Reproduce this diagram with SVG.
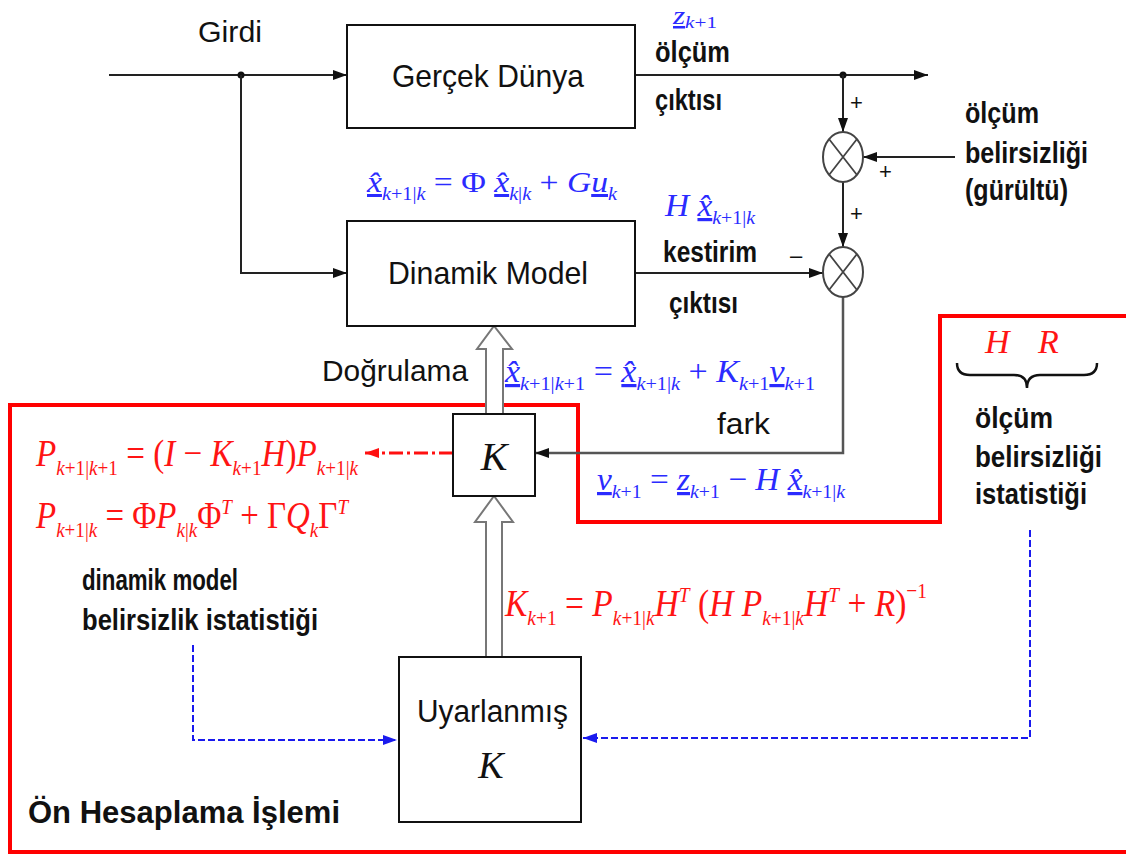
<svg xmlns="http://www.w3.org/2000/svg" width="1126" height="857" viewBox="0 0 1126 857">
<defs>
<marker id="ah" markerUnits="userSpaceOnUse" markerWidth="14" markerHeight="10" refX="14" refY="5" orient="auto"><path d="M0,0 L14,5 L0,10 z" fill="#111"/></marker>
<marker id="ahb" markerUnits="userSpaceOnUse" markerWidth="14" markerHeight="10" refX="14" refY="5" orient="auto"><path d="M0,0 L14,5 L0,10 z" fill="#1a1aee"/></marker>
<marker id="ahr" markerUnits="userSpaceOnUse" markerWidth="14" markerHeight="10" refX="14" refY="5" orient="auto"><path d="M0,0 L14,5 L0,10 z" fill="#ff1010"/></marker>
</defs>
<style>
.box{fill:#fff;stroke:#111;stroke-width:2}
.ln{fill:none;stroke:#222;stroke-width:2}
.gl{fill:none;stroke:#555;stroke-width:2.5}
.sum{fill:#fff;stroke:#444;stroke-width:2}
.hol{fill:#fff;stroke:#777;stroke-width:2}
.bl{fill:none;stroke:#1a1aee;stroke-width:2;stroke-dasharray:7,3}
.lbl{font-family:"Liberation Sans",Arial,sans-serif;fill:#111}
.b{font-weight:bold}
.m{font-family:"Liberation Serif","Times New Roman",serif;font-style:italic}
.u{font-style:normal}
.blue{fill:#2b2bff}
.red{fill:#ff1414}
</style>

<g id="red-frame"><path d="M1130,316 L940,316 L940,522 L578,522 L578,405 L10,405 L10,852 L1130,852" fill="none" stroke="#ff0000" stroke-width="4"/></g>

<g id="connectors">
<line class="ln" x1="109" y1="75" x2="347" y2="75" marker-end="url(#ah)"/>
<circle cx="241" cy="75" r="3.5" fill="#111"/>
<polyline class="ln" points="241,75 241,273 347,273" marker-end="url(#ah)"/>
<line class="ln" x1="635" y1="75" x2="928" y2="75" marker-end="url(#ah)"/>
<circle cx="843" cy="75" r="3.5" fill="#111"/>
<line class="ln" x1="843" y1="75" x2="843" y2="132" marker-end="url(#ah)"/>
<line class="ln" x1="955" y1="157" x2="863" y2="157" marker-end="url(#ah)"/>
<line class="ln" x1="843" y1="182" x2="843" y2="247" marker-end="url(#ah)"/>
<line class="ln" x1="635" y1="273" x2="823" y2="273" marker-end="url(#ah)"/>
<polyline class="gl" points="843,297 843,453 535,453" marker-end="url(#ah)"/>
<polyline class="hol" points="486,414 486,349 477,349 494,326 512,349 503,349 503,414"/>
<polyline class="hol" points="486,657 486,522 475,522 494,496 513,522 502,522 502,657"/>
<line x1="453" y1="453" x2="365" y2="453" stroke="#ff1010" stroke-width="3" stroke-dasharray="14,4,3,4" marker-end="url(#ahr)"/>
<polyline class="bl" points="193,645 193,740 397,740" marker-end="url(#ahb)"/>
<polyline class="bl" points="1030,530 1030,738 583,738" marker-end="url(#ahb)"/>
<path d="M957,363 Q957,375 970,375 L1014,375 Q1027,375 1027,388 Q1027,375 1040,375 L1084,375 Q1097,375 1097,363" fill="none" stroke="#111" stroke-width="2.5"/>
</g>

<g id="gercek"><rect class="box" x="347" y="25" width="288" height="103"/>
<text class="lbl" x="392" y="87" font-size="32" textLength="192" lengthAdjust="spacingAndGlyphs">Gerçek Dünya</text></g>

<g id="dinamik"><rect class="box" x="347" y="221" width="288" height="105"/>
<text class="lbl" x="388" y="284" font-size="32" textLength="200" lengthAdjust="spacingAndGlyphs">Dinamik Model</text></g>

<g id="sum1"><ellipse class="sum" cx="843" cy="157" rx="20" ry="25"/><path d="M829,139 L857,175 M857,139 L829,175" stroke="#444" stroke-width="1.8"/></g>
<g id="sum2"><ellipse class="sum" cx="843" cy="272" rx="20" ry="25"/><path d="M829,254 L857,290 M857,254 L829,290" stroke="#444" stroke-width="1.8"/></g>

<g id="kbox"><rect class="box" x="453" y="414" width="82" height="82"/>
<text class="m" x="494" y="470" font-size="40" text-anchor="middle" fill="#111">K</text></g>

<g id="uyarlanmis"><rect class="box" x="399" y="657" width="182" height="165" stroke-width="2.5"/>
<text class="lbl" x="417" y="722" font-size="31" textLength="151" lengthAdjust="spacingAndGlyphs">Uyarlanmış</text>
<text class="m" x="491" y="778" font-size="38" text-anchor="middle" fill="#111">K</text></g>

<g id="labels">
<text class="lbl" x="198" y="42" font-size="30" textLength="64" lengthAdjust="spacingAndGlyphs">Girdi</text>
<text class="lbl b" x="655" y="62" font-size="29" textLength="75" lengthAdjust="spacingAndGlyphs">ölçüm</text>
<text class="lbl b" x="655" y="110" font-size="29" textLength="67" lengthAdjust="spacingAndGlyphs">çıktısı</text>
<text class="lbl b" x="663" y="262" font-size="29" textLength="94" lengthAdjust="spacingAndGlyphs">kestirim</text>
<text class="lbl b" x="669" y="313" font-size="29" textLength="69" lengthAdjust="spacingAndGlyphs">çıktısı</text>
<text class="lbl" x="322" y="381" font-size="30" textLength="146" lengthAdjust="spacingAndGlyphs">Doğrulama</text>
<text class="lbl" x="717" y="434" font-size="30" textLength="53" lengthAdjust="spacingAndGlyphs">fark</text>
<text class="lbl b" x="965" y="123" font-size="29" textLength="74" lengthAdjust="spacingAndGlyphs">ölçüm</text>
<text class="lbl b" x="965" y="163" font-size="29" textLength="123" lengthAdjust="spacingAndGlyphs">belirsizliği</text>
<text class="lbl b" x="965" y="200" font-size="29" textLength="103" lengthAdjust="spacingAndGlyphs">(gürültü)</text>
<text class="lbl b" x="975" y="428" font-size="29" textLength="78" lengthAdjust="spacingAndGlyphs">ölçüm</text>
<text class="lbl b" x="975" y="467" font-size="29" textLength="127" lengthAdjust="spacingAndGlyphs">belirsizliği</text>
<text class="lbl b" x="975" y="504" font-size="29" textLength="112" lengthAdjust="spacingAndGlyphs">istatistiği</text>
<text class="lbl b" x="82" y="590" font-size="29" textLength="156" lengthAdjust="spacingAndGlyphs">dinamik model</text>
<text class="lbl b" x="82" y="630" font-size="29" textLength="236" lengthAdjust="spacingAndGlyphs">belirsizlik istatistiği</text>
<text class="lbl b" x="28" y="823" font-size="32" textLength="312" lengthAdjust="spacingAndGlyphs">Ön Hesaplama İşlemi</text>
<text class="lbl" x="850" y="110" font-size="22">+</text>
<text class="lbl" x="879" y="179" font-size="22">+</text>
<text class="lbl" x="850" y="221" font-size="22">+</text>
<text class="lbl" x="790" y="263" font-size="22">–</text>
</g>

<g id="equations">
<text class="m blue" x="673" y="24" font-size="25" textLength="44" lengthAdjust="spacingAndGlyphs"><tspan text-decoration="underline">z</tspan><tspan font-size="17" dy="4">k</tspan><tspan class="u" font-size="17">+1</tspan></text>
<text class="m blue" x="367" y="192" font-size="30" textLength="250" lengthAdjust="spacingAndGlyphs"><tspan text-decoration="underline">x̂</tspan><tspan font-size="18" dy="8">k</tspan><tspan class="u" font-size="18">+1|</tspan><tspan font-size="18">k</tspan><tspan class="u" dy="-8"> = Φ </tspan><tspan text-decoration="underline">x̂</tspan><tspan font-size="18" dy="8">k</tspan><tspan class="u" font-size="18">|</tspan><tspan font-size="18">k</tspan><tspan class="u" dy="-8"> + </tspan><tspan>G</tspan><tspan text-decoration="underline">u</tspan><tspan font-size="18" dy="8">k</tspan></text>
<text class="m blue" x="665" y="216" font-size="32" textLength="90" lengthAdjust="spacingAndGlyphs"><tspan>H </tspan><tspan text-decoration="underline">x̂</tspan><tspan font-size="19" dy="8">k</tspan><tspan class="u" font-size="19">+1|</tspan><tspan font-size="19">k</tspan></text>
<text class="m blue" x="505" y="382" font-size="32" textLength="310" lengthAdjust="spacingAndGlyphs"><tspan text-decoration="underline">x̂</tspan><tspan font-size="19" dy="8">k</tspan><tspan class="u" font-size="19">+1|</tspan><tspan font-size="19">k</tspan><tspan class="u" font-size="19">+1</tspan><tspan class="u" dy="-8"> = </tspan><tspan text-decoration="underline">x̂</tspan><tspan font-size="19" dy="8">k</tspan><tspan class="u" font-size="19">+1|</tspan><tspan font-size="19">k</tspan><tspan class="u" dy="-8"> + </tspan><tspan>K</tspan><tspan font-size="19" dy="8">k</tspan><tspan class="u" font-size="19">+1</tspan><tspan dy="-8" text-decoration="underline">ν</tspan><tspan font-size="19" dy="8">k</tspan><tspan class="u" font-size="19">+1</tspan></text>
<text class="m blue" x="597" y="490" font-size="32" textLength="248" lengthAdjust="spacingAndGlyphs"><tspan text-decoration="underline">ν</tspan><tspan font-size="19" dy="8">k</tspan><tspan class="u" font-size="19">+1</tspan><tspan class="u" dy="-8"> = </tspan><tspan text-decoration="underline">z</tspan><tspan font-size="19" dy="8">k</tspan><tspan class="u" font-size="19">+1</tspan><tspan class="u" dy="-8"> − </tspan><tspan>H </tspan><tspan text-decoration="underline">x̂</tspan><tspan font-size="19" dy="8">k</tspan><tspan class="u" font-size="19">+1|</tspan><tspan font-size="19">k</tspan></text>
<text class="m red" x="36" y="466" font-size="38" textLength="322" lengthAdjust="spacingAndGlyphs"><tspan>P</tspan><tspan font-size="22" dy="9">k</tspan><tspan class="u" font-size="22">+1|</tspan><tspan font-size="22">k</tspan><tspan class="u" font-size="22">+1</tspan><tspan class="u" dy="-9"> = (</tspan><tspan>I</tspan><tspan class="u"> − </tspan><tspan>K</tspan><tspan font-size="22" dy="9">k</tspan><tspan class="u" font-size="22">+1</tspan><tspan dy="-9">H</tspan><tspan class="u">)</tspan><tspan>P</tspan><tspan font-size="22" dy="9">k</tspan><tspan class="u" font-size="22">+1|</tspan><tspan font-size="22">k</tspan></text>
<text class="m red" x="36" y="528" font-size="38" textLength="312" lengthAdjust="spacingAndGlyphs"><tspan>P</tspan><tspan font-size="22" dy="9">k</tspan><tspan class="u" font-size="22">+1|</tspan><tspan font-size="22">k</tspan><tspan class="u" dy="-9"> = Φ</tspan><tspan>P</tspan><tspan font-size="22" dy="9">k</tspan><tspan class="u" font-size="22">|</tspan><tspan font-size="22">k</tspan><tspan class="u" dy="-9">Φ</tspan><tspan font-size="22" dy="-14">T</tspan><tspan class="u" dy="14"> + Γ</tspan><tspan>Q</tspan><tspan font-size="22" dy="9">k</tspan><tspan class="u" dy="-9">Γ</tspan><tspan font-size="22" dy="-14">T</tspan></text>
<text class="m red" x="505" y="616" font-size="38" textLength="422" lengthAdjust="spacingAndGlyphs"><tspan>K</tspan><tspan font-size="22" dy="9">k</tspan><tspan class="u" font-size="22">+1</tspan><tspan class="u" dy="-9"> = </tspan><tspan>P</tspan><tspan font-size="22" dy="9">k</tspan><tspan class="u" font-size="22">+1|</tspan><tspan font-size="22">k</tspan><tspan dy="-9">H</tspan><tspan font-size="22" dy="-14">T</tspan><tspan class="u" dy="14"> (</tspan><tspan>H P</tspan><tspan font-size="22" dy="9">k</tspan><tspan class="u" font-size="22">+1|</tspan><tspan font-size="22">k</tspan><tspan dy="-9">H</tspan><tspan font-size="22" dy="-14">T</tspan><tspan class="u" dy="14"> + </tspan><tspan>R</tspan><tspan class="u">)</tspan><tspan class="u" font-size="22" dy="-18">−1</tspan></text>
<text class="m red" x="985" y="353" font-size="34">H</text>
<text class="m red" x="1038" y="353" font-size="34">R</text>
</g>
</svg>
